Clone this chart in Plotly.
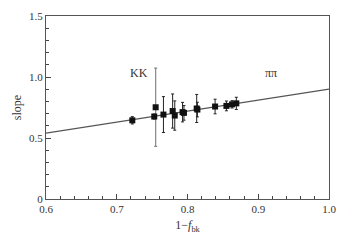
import plotly.graph_objects as go

# data
x_vals = [0.722, 0.753, 0.755, 0.766, 0.779, 0.782, 0.793, 0.795, 0.813, 0.814, 0.839, 0.855, 0.863, 0.869]
y_vals = [0.645, 0.676, 0.752, 0.692, 0.721, 0.684, 0.712, 0.706, 0.742, 0.733, 0.758, 0.763, 0.776, 0.784]
y_err = [0.03, 0.02, 0.32, 0.147, 0.14, 0.12, 0.08, 0.06, 0.115, 0.06, 0.06, 0.04, 0.03, 0.05]
grey_idx = [2]

fit_x = [0.6, 1.0]
fit_slope = 0.9

x_ticks = [0.6, 0.7, 0.8, 0.9, 1.0]
x_ticklabels = ["0.6", "0.7", "0.8", "0.9", "1.0"]
y_ticks = [0, 0.5, 1.0, 1.5]
y_ticklabels = ["0", "0.5", "1.0", "1.5"]

FONT = "Liberation Serif, Times New Roman, serif"
INK = "#333333"

fig = go.Figure()

fig.add_trace(go.Scatter(
    x=fit_x, y=[fit_slope * v for v in fit_x], mode="lines",
    line=dict(color="#555555", width=1.2), showlegend=False, hoverinfo="skip"))

bx = [x_vals[i] for i in range(len(x_vals)) if i not in grey_idx]
by = [y_vals[i] for i in range(len(y_vals)) if i not in grey_idx]
be = [y_err[i] for i in range(len(y_err)) if i not in grey_idx]
gx = [x_vals[i] for i in grey_idx]
gy = [y_vals[i] for i in grey_idx]
ge = [y_err[i] for i in grey_idx]

fig.add_trace(go.Scatter(
    x=gx, y=gy, mode="markers",
    marker=dict(symbol="square", size=6, color="#111111"),
    error_y=dict(type="data", array=ge, visible=True, color="#888888", thickness=1.2, width=1.5),
    showlegend=False))

fig.add_trace(go.Scatter(
    x=bx, y=by, mode="markers",
    marker=dict(symbol="square", size=6, color="#111111"),
    error_y=dict(type="data", array=be, visible=True, color="#222222", thickness=1, width=1.5),
    showlegend=False))

fig.add_annotation(x=0.732, y=1.03, text="KK", showarrow=False,
                   font=dict(family=FONT, size=12, color=INK))
fig.add_annotation(x=0.918, y=1.03, text="ππ", showarrow=False,
                   font=dict(family=FONT, size=12, color=INK))

fig.update_layout(
    width=346, height=240, autosize=False,
    margin=dict(l=46, r=17, t=10, b=40),
    plot_bgcolor="white", paper_bgcolor="white",
    font=dict(family=FONT, size=11, color=INK),
    xaxis=dict(range=[0.6, 1.0], tickvals=x_ticks, ticktext=x_ticklabels,
               ticks="inside", ticklen=5, tickcolor="#444444", showgrid=False, zeroline=False,
               showline=True, linecolor="#555555", linewidth=1, mirror=True,
               minor=dict(dtick=0.02, tick0=0.6, ticks="inside", ticklen=3, tickcolor="#444444", showgrid=False),
               title=dict(text="1−<i>f</i><sub>bk</sub>", font=dict(size=12), standoff=6)),
    yaxis=dict(range=[0, 1.5], tickvals=y_ticks, ticktext=y_ticklabels,
               ticks="inside", ticklen=5, tickcolor="#444444", showgrid=False, zeroline=False,
               showline=True, linecolor="#555555", linewidth=1, mirror=True,
               minor=dict(dtick=0.1, tick0=0, ticks="inside", ticklen=3, tickcolor="#444444", showgrid=False),
               title=dict(text="slope", font=dict(size=12), standoff=4)),
)

# remove the page's default 8px body margin so the figure fills the window
fig.write_html("out.html", config={"displayModeBar": False},
               post_script="document.body.style.margin='0';")
